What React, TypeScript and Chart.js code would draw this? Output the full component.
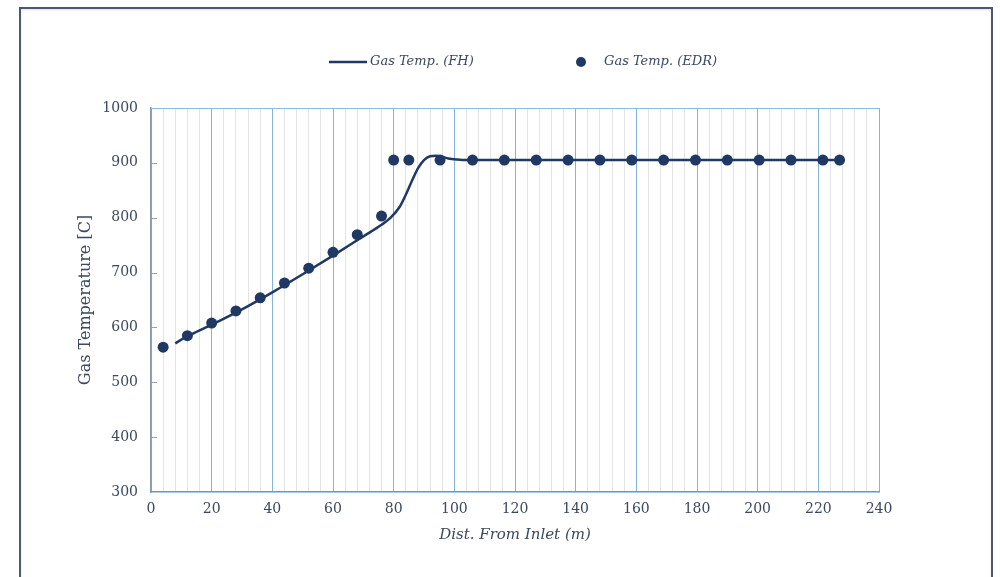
import React, { useEffect, useRef } from "react";
import { Chart, registerables } from "chart.js";

Chart.register(...registerables);

// Gas Temp. (EDR) – markers
const edrX = [4, 12, 20, 28, 36, 44, 52, 60, 68, 76, 80, 85, 95.3, 106, 116.5, 127, 137.5, 148, 158.5, 169, 179.5, 190, 200.5, 211, 221.5, 227];
const edrY = [564, 585, 608, 630, 654, 681, 708, 737, 769, 803, 905, 905, 905, 905, 905, 905, 905, 905, 905, 905, 905, 905, 905, 905, 905, 905];

// Gas Temp. (FH) – line
const fhX = [8, 12, 20, 30, 40, 50, 60, 70, 76, 79, 82, 84, 86, 88, 90, 92, 94, 96, 98, 101, 104, 120, 140, 160, 180, 200, 220, 227];
const fhY = [571, 584, 605, 633, 664, 697, 731, 766, 787, 800, 820, 842, 867, 890, 905, 912, 913, 911, 908, 906, 905, 905, 905, 905, 905, 905, 905, 905];

const xMin = 0;
const xMax = 240;
const xMinorStep = 4;
const xMajorStep = 20;
const yMin = 300;
const yMax = 1000;
const yStep = 100;

const seriesNames = ["Gas Temp. (FH)", "Gas Temp. (EDR)"];
const xTitle = "Dist. From Inlet (m)";
const yTitle = "Gas Temperature [C]";

const NAVY = "#1f3864";
const TEXT = "#3a4860";
const FONT = "'DejaVu Serif', serif";

const decorPlugin = {
  id: "decor",
  beforeDatasetsDraw(chart: any) {
    const { ctx, chartArea } = chart;
    const y = chart.scales.y;
    ctx.save();
    // top border of plot area
    ctx.strokeStyle = "#8fbbe0";
    ctx.lineWidth = 1;
    ctx.beginPath();
    ctx.moveTo(chartArea.left, chartArea.top + 0.5);
    ctx.lineTo(chartArea.right, chartArea.top + 0.5);
    ctx.stroke();
    // inward tick marks on y axis
    ctx.strokeStyle = "#9aa4b2";
    for (const t of y.ticks) {
      const py = Math.round(y.getPixelForValue(t.value)) + 0.5;
      if (t.value === yMin || t.value === yMax) continue;
      ctx.beginPath();
      ctx.moveTo(chartArea.left + 1, py);
      ctx.lineTo(chartArea.left + 6, py);
      ctx.stroke();
    }
    ctx.restore();
  },
  afterDraw(chart: any) {
    const { ctx } = chart;
    const cy = 62;
    ctx.save();
    ctx.font = "italic 13px 'DejaVu Serif', serif";
    ctx.fillStyle = TEXT;
    ctx.textBaseline = "middle";
    // line item
    ctx.strokeStyle = NAVY;
    ctx.lineWidth = 2.5;
    ctx.beginPath();
    ctx.moveTo(329, cy);
    ctx.lineTo(367, cy);
    ctx.stroke();
    ctx.fillText(seriesNames[0], 370, cy);
    // point item
    ctx.fillStyle = NAVY;
    ctx.beginPath();
    ctx.arc(581, cy, 5, 0, Math.PI * 2);
    ctx.fill();
    ctx.fillStyle = TEXT;
    ctx.fillText(seriesNames[1], 604, cy);
    ctx.restore();
  },
};

export default function App() {
  const ref = useRef<HTMLCanvasElement | null>(null);

  useEffect(() => {
    if (!ref.current) return;
    Chart.defaults.font.family = FONT;
    const chart = new Chart(ref.current, {
      type: "scatter",
      data: {
        datasets: [
          {
            type: "line",
            label: seriesNames[0],
            data: fhX.map((x, i) => ({ x, y: fhY[i] })),
            borderColor: NAVY,
            backgroundColor: NAVY,
            borderWidth: 2.5,
            pointRadius: 0,
            showLine: true,
            cubicInterpolationMode: "monotone",
            fill: false,
            order: 1,
          } as any,
          {
            type: "scatter",
            label: seriesNames[1],
            data: edrX.map((x, i) => ({ x, y: edrY[i] })),
            backgroundColor: NAVY,
            borderColor: NAVY,
            borderWidth: 0,
            pointRadius: 5.5,
            order: 2,
          },
        ],
      },
      options: {
        responsive: false,
        animation: false,
        devicePixelRatio: 1,
        layout: { padding: { left: 40, right: 121, top: 108, bottom: 15 } },
        plugins: {
          legend: { display: false },
          tooltip: { enabled: false },
        },
        scales: {
          x: {
            type: "linear",
            min: xMin,
            max: xMax,
            afterFit: (s: any) => {
              s.height = 70;
            },
            ticks: {
              stepSize: xMinorStep,
              autoSkip: false,
              maxRotation: 0,
              padding: 9,
              color: TEXT,
              font: { size: 14, family: FONT },
              callback: (v: any) => (Number(v) % xMajorStep === 0 ? String(v) : ""),
            },
            grid: {
              drawTicks: false,
              lineWidth: 1,
              color: (c: any) =>
                c.tick && c.tick.value % xMajorStep === 0 ? "#84b4dc" : "#e4e4e4",
            },
            border: { display: true, color: "#5b9bd5", width: 1.5 },
            title: {
              display: true,
              text: xTitle,
              color: TEXT,
              font: { size: 15, style: "italic", family: FONT },
              padding: { top: 0, bottom: 18 },
            },
          },
          y: {
            type: "linear",
            min: yMin,
            max: yMax,
            afterFit: (s: any) => {
              s.width = 111;
            },
            ticks: {
              stepSize: yStep,
              padding: 13,
              color: TEXT,
              font: { size: 14, family: FONT },
              callback: (v: any) => String(v),
            },
            grid: { drawOnChartArea: false, drawTicks: false },
            border: { display: true, color: "#8497b0", width: 1.5 },
            title: {
              display: true,
              text: yTitle,
              color: TEXT,
              font: { size: 16, family: FONT },
              padding: { top: 36, bottom: 0 },
            },
          },
        },
      },
      plugins: [decorPlugin],
    });
    return () => chart.destroy();
  }, []);

  return (
    <div
      style={{
        position: "absolute",
        left: 0,
        top: 0,
        width: 1000,
        height: 577,
        overflow: "hidden",
        background: "#ffffff",
      }}
    >
      <div
        style={{
          position: "absolute",
          left: 19,
          top: 7,
          width: 974,
          height: 700,
          border: "2px solid #4a5870",
          boxSizing: "border-box",
          boxShadow: "inset 0 1px 2px rgba(0,0,0,0.12)",
        }}
      />
      <canvas
        ref={ref}
        width={1000}
        height={577}
        style={{ position: "absolute", left: 0, top: 0, width: 1000, height: 577 }}
      />
    </div>
  );
}
